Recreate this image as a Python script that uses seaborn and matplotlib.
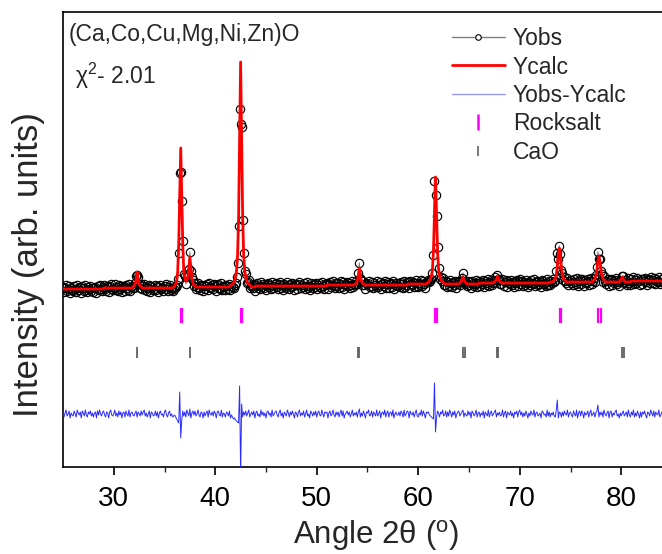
import numpy as np
import pandas as pd
import matplotlib
matplotlib.use("Agg")
import matplotlib.pyplot as plt
from matplotlib.lines import Line2D
import seaborn as sns

# ---------------- data ----------------
angle_start = 25.0
angle_step = 0.1

# Ycalc, one row per degree (x.0 ... x.9), intensity in arbitrary units
ycalc_rows = [
    [178,178,178,178,178,178,178,178,178,178],  # 25
    [178,178,178,178,178,178,178,178,178,178],  # 26
    [178,178,178,178,178,178,178,178,178,178],  # 27
    [178,178,178,178,178,178,178,178,178,178],  # 28
    [179,179,179,179,179,179,179,179,179,179],  # 29
    [179,179,179,179,179,179,179,179,179,179],  # 30
    [179,179,179,179,179,179,179,179,179,180],  # 31
    [181,183,188,195,188,183,181,180,179,179],  # 32
    [179,179,179,179,179,179,179,179,179,179],  # 33
    [179,179,179,179,179,179,179,179,179,179],  # 34
    [179,179,179,179,179,179,179,179,179,180],  # 35
    [181,183,187,195,223,272,319,272,223,195],  # 36
    [189,186,186,190,200,210,200,189,184,182],  # 37
    [181,180,180,180,180,180,180,180,180,180],  # 38
    [180,180,180,180,180,180,180,180,180,180],  # 39
    [180,180,180,180,180,180,180,180,180,180],  # 40
    [180,180,180,180,180,181,182,183,184,186],  # 41
    [190,197,212,250,330,405,330,250,212,197],  # 42
    [190,186,184,183,182,181,180,180,180,180],  # 43
    [181,181,181,181,181,181,181,181,181,181],  # 44
    [181,181,181,181,181,181,181,181,181,181],  # 45
    [181,181,181,181,181,181,181,181,181,181],  # 46
    [181,181,181,181,181,181,181,181,181,181],  # 47
    [181,181,181,181,181,181,181,181,181,181],  # 48
    [181,181,181,181,181,181,181,181,181,181],  # 49
    [181,181,181,181,181,181,181,181,181,181],  # 50
    [182,182,182,182,182,182,182,182,182,182],  # 51
    [182,182,182,182,182,182,182,182,182,182],  # 52
    [182,182,182,182,182,182,182,182,183,184],  # 53
    [186,192,199,192,186,184,183,182,182,182],  # 54
    [182,182,182,182,182,182,182,182,182,182],  # 55
    [182,182,182,182,182,182,182,182,182,182],  # 56
    [182,182,182,182,182,182,182,182,182,182],  # 57
    [182,182,182,182,182,182,182,182,182,182],  # 58
    [183,183,183,183,183,183,183,183,183,183],  # 59
    [183,183,183,183,183,183,183,183,183,184],  # 60
    [185,186,188,191,198,217,255,290,255,217],  # 61
    [198,191,188,186,185,184,183,183,183,183],  # 62
    [183,183,183,183,183,183,183,183,183,183],  # 63
    [183,184,185,187,190,187,185,184,183,183],  # 64
    [183,183,183,183,183,183,183,183,183,183],  # 65
    [184,184,184,184,184,184,184,184,184,184],  # 66
    [184,184,184,184,184,185,186,188,191,188],  # 67
    [186,185,184,184,184,184,184,184,184,184],  # 68
    [184,184,184,184,184,184,184,184,184,184],  # 69
    [184,184,184,184,184,184,184,184,184,184],  # 70
    [184,184,184,184,184,184,184,184,184,184],  # 71
    [184,184,184,184,184,184,184,184,184,184],  # 72
    [185,185,185,186,187,189,192,200,212,219],  # 73
    [212,200,192,189,187,186,185,185,185,185],  # 74
    [185,185,185,185,185,185,185,185,185,185],  # 75
    [185,185,185,185,185,185,185,185,185,185],  # 76
    [185,185,186,187,188,191,197,206,211,206],  # 77
    [197,191,188,187,186,185,185,185,185,185],  # 78
    [185,185,185,185,185,185,185,185,185,186],  # 79
    [188,190,188,186,185,185,185,185,185,185],  # 80
    [186,186,186,186,186,186,186,186,186,186],  # 81
    [186,186,186,186,186,186,186,186,186,186],  # 82
    [186,186,186,186,186,186,186,186,186,186],  # 83
    [186,186,186,186,186,186,186,186,186,186],  # 84
]

# Yobs - Ycalc, same grid
ydiff_rows = [
    [2,-3,1,4,-2,0,3,-4,1,-1],     # 25
    [-2,3,0,-3,4,1,-1,2,-4,3],     # 26
    [1,-2,4,-1,-3,2,0,3,-2,1],     # 27
    [-3,1,2,-4,3,-1,4,0,-2,2],     # 28
    [3,-1,-3,2,1,-4,2,4,-1,-2],    # 29
    [0,4,-2,1,-3,3,-1,2,-4,1],     # 30
    [2,-3,3,0,-2,4,-3,1,2,-1],     # 31
    [-2,1,3,-3,2,0,-2,3,-1,2],     # 32
    [4,-2,1,-3,0,3,-4,2,1,-2],     # 33
    [-1,3,-2,2,-4,1,3,-1,0,-3],    # 34
    [2,4,-1,-3,1,3,-2,0,-3,-2],    # 35
    [-1,-3,-5,-7,-9,22,-24,-6,3,-2],  # 36
    [2,-3,4,1,-2,5,-4,1,3,-1],     # 37
    [3,-2,0,4,-1,-3,2,1,-4,2],     # 38
    [-2,1,3,-3,4,0,-1,2,-2,3],     # 39
    [1,-4,2,3,-1,-2,4,-3,1,0],     # 40
    [-3,2,1,-2,3,-4,-1,-3,-5,-4],  # 41
    [-6,-7,-8,-9,28,-62,10,-3,2,-1],  # 42
    [3,-2,1,4,-3,0,2,-1,3,-4],     # 43
    [1,3,-2,0,-3,4,-1,2,-2,1],     # 44
    [-4,2,3,-1,1,-3,4,-2,0,2],     # 45
    [3,-1,-3,2,4,-2,1,-4,2,0],     # 46
    [-2,4,1,-3,2,-1,3,0,-4,2],     # 47
    [1,-3,2,4,-2,1,-1,3,-3,0],     # 48
    [4,-2,0,-4,3,1,-2,2,-1,3],     # 49
    [-3,1,3,-1,-2,4,0,-3,2,1],     # 50
    [2,-4,1,3,-2,0,4,-1,-3,2],     # 51
    [-1,2,-3,1,4,-2,3,-4,0,1],     # 52
    [3,-1,2,-3,0,4,-2,1,-1,2],     # 53
    [-3,2,5,-3,1,-2,3,0,-4,2],     # 54
    [1,4,-2,-1,3,-3,2,0,-2,4],     # 55
    [-2,0,3,-4,1,2,-1,4,-3,1],     # 56
    [3,-3,1,2,-2,4,-4,0,2,-1],     # 57
    [-1,2,-2,3,1,-3,4,-2,0,3],     # 58
    [2,-4,3,0,-1,2,-3,1,4,-2],     # 59
    [-3,1,-1,4,-2,3,0,-4,2,1],     # 60
    [2,-1,-2,-3,-4,-5,31,-18,-4,3],  # 61
    [1,-3,2,0,4,-2,-1,3,-3,2],     # 62
    [-2,4,1,-3,2,-1,3,-4,0,2],     # 63
    [3,-2,0,2,4,-3,1,-1,-2,3],     # 64
    [-1,2,-4,3,1,-2,0,4,-3,1],     # 65
    [2,-3,1,-1,3,-4,2,0,-2,4],     # 66
    [-3,1,3,-2,0,2,4,-3,1,-1],     # 67
    [2,-2,-1,4,-3,1,3,-4,2,0],     # 68
    [-1,3,-2,1,-4,2,0,3,-3,2],     # 69
    [4,-1,2,-3,1,-2,3,0,-4,1],     # 70
    [-2,3,0,-1,4,-3,1,2,-2,-1],    # 71
    [1,-4,3,2,-1,0,-3,4,-2,2],     # 72
    [-3,1,-1,2,-2,-3,4,14,-4,2],   # 73
    [1,-3,2,-2,3,0,-1,4,-3,1],     # 74
    [2,-1,-3,3,0,-2,4,-4,1,3],     # 75
    [-2,3,1,-4,2,-1,0,3,-3,1],     # 76
    [4,-2,0,2,-3,1,3,9,-3,2],      # 77
    [-1,2,-3,4,0,-2,1,3,-4,2],     # 78
    [3,-3,1,-1,2,4,-2,0,-4,1],     # 79
    [-2,1,3,-2,0,2,-3,4,-1,-3],    # 80
    [2,-1,4,-3,1,-2,3,0,-4,2],     # 81
    [-3,2,0,3,-1,-4,2,1,-2,4],     # 82
    [1,-2,3,-3,2,0,-1,4,-3,-1],    # 83
    [2,3,-2,0,-4,1,3,-1,2,-3],     # 84
]

rocksalt_pos = [36.58, 36.68, 42.50, 42.60, 61.68, 61.85, 73.92, 74.10, 77.75, 77.97]
cao_pos = [32.30, 37.50, 54.05, 54.15, 64.45, 64.60, 67.75, 67.90, 80.10, 80.30]

x_ticks = [30, 40, 50, 60, 70, 80]
title_text = "(Ca,Co,Cu,Mg,Ni,Zn)O"
chi_text = "\u03c7$^{\\rm 2}$- 2.01"
legend_labels = ["Yobs", "Ycalc", "Yobs-Ycalc", "Rocksalt", "CaO"]

# ---------------- build table ----------------
ycalc = np.array([v for r in ycalc_rows for v in r], dtype=float)
ydiff = np.array([v for r in ydiff_rows for v in r], dtype=float)
angle = np.round(angle_start + angle_step * np.arange(len(ycalc)), 2)
df = pd.DataFrame({"angle": angle, "Ycalc": ycalc, "diff": ydiff})
df["Yobs"] = df["Ycalc"] + df["diff"]

diff_offset = 53
rock_y = (144, 159)
cao_y = (109, 120)

# ---------------- style ----------------
sns.set_theme(style="white")
plt.rcParams["font.family"] = ["Liberation Sans", "DejaVu Sans"]
plt.rcParams["mathtext.fontset"] = "custom"
plt.rcParams["mathtext.rm"] = "Liberation Sans"
plt.rcParams["mathtext.it"] = "Liberation Sans:italic"
plt.rcParams["mathtext.bf"] = "Liberation Sans:bold"

W, H = 662, 554
fig = plt.figure(figsize=(W / 100, H / 100), dpi=100)
ax_left, ax_right, ax_top, ax_bottom = 63, 662, 12, 467
ax = fig.add_axes([ax_left / W, 1 - ax_bottom / H, (ax_right - ax_left) / W, (ax_bottom - ax_top) / H])

# observed: gray line + open circles
sns.lineplot(data=df, x="angle", y="Yobs", ax=ax, estimator=None, sort=False,
             color="#7f7f7f", lw=0.8, marker="o", markersize=6.0,
             markerfacecolor="none", markeredgecolor="black", markeredgewidth=0.85,
             zorder=2)
# calculated
sns.lineplot(data=df, x="angle", y="Ycalc", ax=ax, estimator=None, sort=False,
             color="#ff0000", lw=2.0, zorder=3)
# difference
sns.lineplot(x=df["angle"], y=df["diff"] + diff_offset, ax=ax, estimator=None, sort=False,
             color="#2a2aff", lw=0.7, zorder=3)

# reflection markers
ax.vlines(rocksalt_pos, rock_y[0], rock_y[1], color="#ff00ff", lw=1.6, zorder=3)
ax.vlines(cao_pos, cao_y[0], cao_y[1], color="#606060", lw=1.3, zorder=3)

ax.set_xlim(25, 25 + (ax_right - ax_left) / 10.15)
ax.set_ylim(0, ax_bottom - ax_top)
ax.set_yticks([])
ax.set_xticks(x_ticks)
ax.set_xticks([35, 45, 55, 65, 75], minor=True)
ax.tick_params(axis="x", which="major", direction="out", length=6, width=1.2,
               labelsize=20, pad=8, colors="black", bottom=True)
ax.tick_params(axis="x", which="minor", direction="out", length=3.5, width=1.0, bottom=True)
for s in ["left", "bottom", "top"]:
    ax.spines[s].set_visible(True)
    ax.spines[s].set_color("black")
    ax.spines[s].set_linewidth(1.2)
ax.spines["right"].set_visible(False)

ax.set_xlabel("Angle 2\u03b8 ($^{\\rm o}$)", fontsize=22.5, va="top")
ax.xaxis.set_label_coords((376 - ax_left) / (ax_right - ax_left), (ax_bottom - 518) / (ax_bottom - ax_top))
ax.set_ylabel("Intensity (arb. units)", fontsize=25)
ax.yaxis.set_label_coords((45 - ax_left) / (ax_right - ax_left), (ax_bottom - 265) / (ax_bottom - ax_top))

fig.text(69 / W, 1 - 34 / H, title_text, fontsize=16.5, va="center", ha="left")
fig.text(75 / W, 1 - 76 / H, chi_text, fontsize=16.5, va="center", ha="left")

handles = [
    Line2D([], [], color="#7f7f7f", lw=1.0, marker="o", markersize=4,
           markerfacecolor="white", markeredgecolor="black", markeredgewidth=0.8),
    Line2D([], [], color="#ff0000", lw=2.0),
    Line2D([], [], color="#9a9aff", lw=1.0),
    Line2D([], [], color="#ff00ff", lw=0, marker="|", markersize=11, markeredgewidth=1.8),
    Line2D([], [], color="#606060", lw=0, marker="|", markersize=7, markeredgewidth=1.2),
]
leg = fig.legend(handles, legend_labels, loc="upper left",
                 bbox_to_anchor=(452 / W, 1 - 27 / H), frameon=False, fontsize=16.5,
                 handlelength=2.3, handletextpad=0.35, labelspacing=0.24,
                 borderpad=0, borderaxespad=0)

fig.savefig("out.png", dpi=100)
